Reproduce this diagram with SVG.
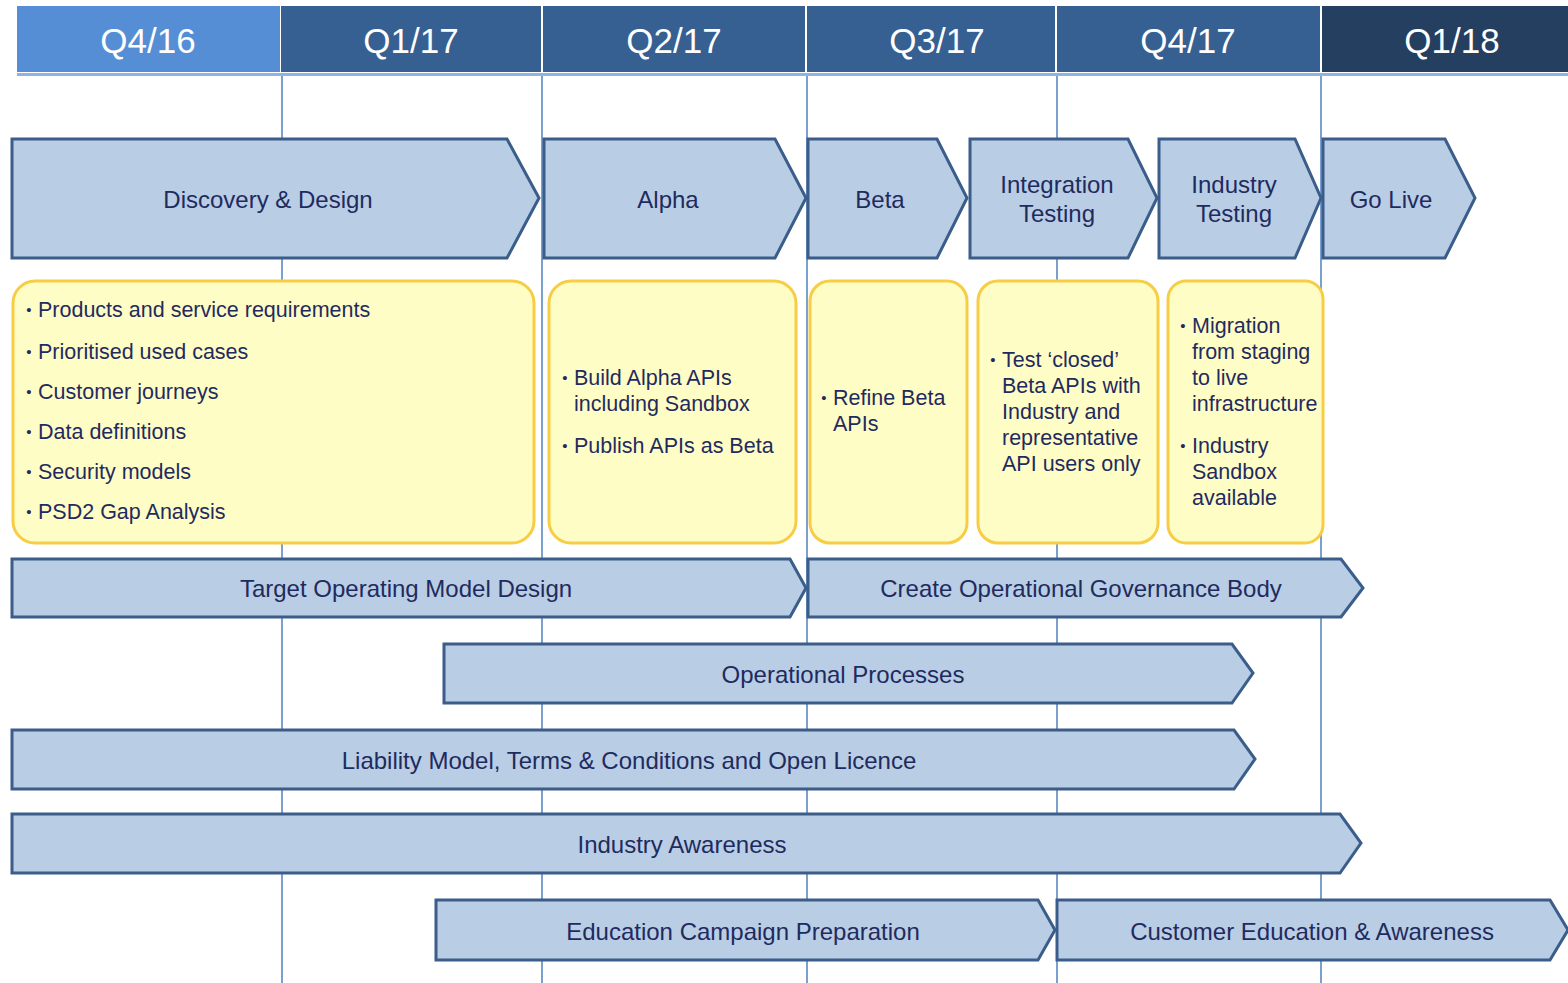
<svg xmlns="http://www.w3.org/2000/svg" width="1568" height="983" viewBox="0 0 1568 983">
<style>
.hdr{font-family:"Liberation Sans",Arial,sans-serif;font-size:35px;fill:#ffffff;text-anchor:middle;dominant-baseline:central}
.chev{fill:#b9cde5;stroke:#3a5d8a;stroke-width:3;stroke-linejoin:miter}
.box{fill:#fffdc6;stroke:#f7cd45;stroke-width:3}
.lbl{font-family:"Liberation Sans",Arial,sans-serif;font-size:24px;fill:#1f2b5e;text-anchor:middle;dominant-baseline:central}
.bt{font-family:"Liberation Sans",Arial,sans-serif;font-size:21.5px;fill:#1f2b5e}
.bul{font-family:"Liberation Sans",Arial,sans-serif;font-size:15px;fill:#1f2b5e;text-anchor:middle}
.grid{stroke:#4f81bd;stroke-width:1.5}
</style>
<rect width="1568" height="983" fill="#ffffff"/>
<g id="header">
<rect x="17" y="6" width="263" height="66" fill="#558ed5"/>
<rect x="281" y="6" width="260" height="66" fill="#366092"/>
<rect x="543" y="6" width="262" height="66" fill="#366092"/>
<rect x="807" y="6" width="248" height="66" fill="#366092"/>
<rect x="1057" y="6" width="263" height="66" fill="#366092"/>
<rect x="1322" y="6" width="246" height="66" fill="#243f60"/>
<rect x="17" y="73" width="1551" height="3" fill="#8eb4e3"/>
<text class="hdr" x="148" y="40">Q4/16</text>
<text class="hdr" x="411" y="40">Q1/17</text>
<text class="hdr" x="674" y="40">Q2/17</text>
<text class="hdr" x="937" y="40">Q3/17</text>
<text class="hdr" x="1188" y="40">Q4/17</text>
<text class="hdr" x="1452" y="40">Q1/18</text>
</g>
<g id="connectors">
<line class="grid" x1="282" y1="76" x2="282" y2="983"/>
<line class="grid" x1="542" y1="76" x2="542" y2="983"/>
<line class="grid" x1="807" y1="76" x2="807" y2="983"/>
<line class="grid" x1="1057" y1="76" x2="1057" y2="983"/>
<line class="grid" x1="1321" y1="76" x2="1321" y2="983"/>
</g>
<g id="discovery">
<path class="chev" d="M12,139 H507 L539,198 L507,258 H12 Z"/>
<text class="lbl" x="268" y="199">Discovery &amp; Design</text>
</g>
<g id="alpha">
<path class="chev" d="M544,139 H775 L806,198 L775,258 H544 Z"/>
<text class="lbl" x="668" y="199">Alpha</text>
</g>
<g id="beta">
<path class="chev" d="M808,139 H937 L967,198 L937,258 H808 Z"/>
<text class="lbl" x="880" y="199">Beta</text>
</g>
<g id="integration">
<path class="chev" d="M970,139 H1128 L1157,198 L1128,258 H970 Z"/>
<text class="lbl" x="1057" y="184">Integration</text>
<text class="lbl" x="1057" y="213">Testing</text>
</g>
<g id="industry-testing">
<path class="chev" d="M1159,139 H1295 L1321,198 L1295,258 H1159 Z"/>
<text class="lbl" x="1234" y="184">Industry</text>
<text class="lbl" x="1234" y="213">Testing</text>
</g>
<g id="golive">
<path class="chev" d="M1323,139 H1445 L1475,198 L1445,258 H1323 Z"/>
<text class="lbl" x="1391" y="199">Go Live</text>
</g>
<g id="box-discovery">
<rect class="box" x="13" y="281" width="521" height="262" rx="22"/>
<text class="bul" x="29" y="315">•</text><text class="bt" x="38" y="317">Products and service requirements</text>
<text class="bul" x="29" y="357">•</text><text class="bt" x="38" y="359">Prioritised used cases</text>
<text class="bul" x="29" y="397">•</text><text class="bt" x="38" y="399">Customer journeys</text>
<text class="bul" x="29" y="437">•</text><text class="bt" x="38" y="439">Data definitions</text>
<text class="bul" x="29" y="477">•</text><text class="bt" x="38" y="479">Security models</text>
<text class="bul" x="29" y="517">•</text><text class="bt" x="38" y="519">PSD2 Gap Analysis</text>
</g>
<g id="box-alpha">
<rect class="box" x="549" y="281" width="247" height="262" rx="22"/>
<text class="bul" x="565" y="383">•</text><text class="bt" x="574" y="385">Build Alpha APIs</text>
<text class="bt" x="574" y="411">including Sandbox</text>
<text class="bul" x="565" y="451">•</text><text class="bt" x="574" y="453">Publish APIs as Beta</text>
</g>
<g id="box-beta">
<rect class="box" x="810" y="281" width="157" height="262" rx="20"/>
<text class="bul" x="824" y="403">•</text><text class="bt" x="833" y="405">Refine Beta</text>
<text class="bt" x="833" y="431">APIs</text>
</g>
<g id="box-integration">
<rect class="box" x="978" y="281" width="180" height="262" rx="20"/>
<text class="bul" x="993" y="365">•</text><text class="bt" x="1002" y="367">Test ‘closed’</text>
<text class="bt" x="1002" y="393">Beta APIs with</text>
<text class="bt" x="1002" y="419">Industry and</text>
<text class="bt" x="1002" y="445">representative</text>
<text class="bt" x="1002" y="471">API users only</text>
</g>
<g id="box-industry">
<rect class="box" x="1168" y="281" width="155" height="262" rx="18"/>
<text class="bul" x="1183" y="331">•</text><text class="bt" x="1192" y="333">Migration</text>
<text class="bt" x="1192" y="359">from staging</text>
<text class="bt" x="1192" y="385">to live</text>
<text class="bt" x="1192" y="411">infrastructure</text>
<text class="bul" x="1183" y="451">•</text><text class="bt" x="1192" y="453">Industry</text>
<text class="bt" x="1192" y="479">Sandbox</text>
<text class="bt" x="1192" y="505">available</text>
</g>
<g id="tom">
<path class="chev" d="M12,559 H790 L806,588 L790,617 H12 Z"/>
<text class="lbl" x="406" y="588">Target Operating Model Design</text>
</g>
<g id="cogb">
<path class="chev" d="M808,559 H1341 L1363,588 L1341,617 H808 Z"/>
<text class="lbl" x="1081" y="588">Create Operational Governance Body</text>
</g>
<g id="op-processes">
<path class="chev" d="M444,644 H1232 L1253,673 L1232,703 H444 Z"/>
<text class="lbl" x="843" y="674">Operational Processes</text>
</g>
<g id="liability">
<path class="chev" d="M12,730 H1234 L1255,759 L1234,789 H12 Z"/>
<text class="lbl" x="629" y="760">Liability Model, Terms &amp; Conditions and Open Licence</text>
</g>
<g id="industry-awareness">
<path class="chev" d="M12,814 H1340 L1361,843 L1340,873 H12 Z"/>
<text class="lbl" x="682" y="844">Industry Awareness</text>
</g>
<g id="education-prep">
<path class="chev" d="M436,900 H1038 L1055,930 L1038,960 H436 Z"/>
<text class="lbl" x="743" y="931">Education Campaign Preparation</text>
</g>
<g id="customer-education">
<path class="chev" d="M1057,900 H1550 L1568,930 L1550,960 H1057 Z"/>
<text class="lbl" x="1312" y="931">Customer Education &amp; Awareness</text>
</g>
</svg>
